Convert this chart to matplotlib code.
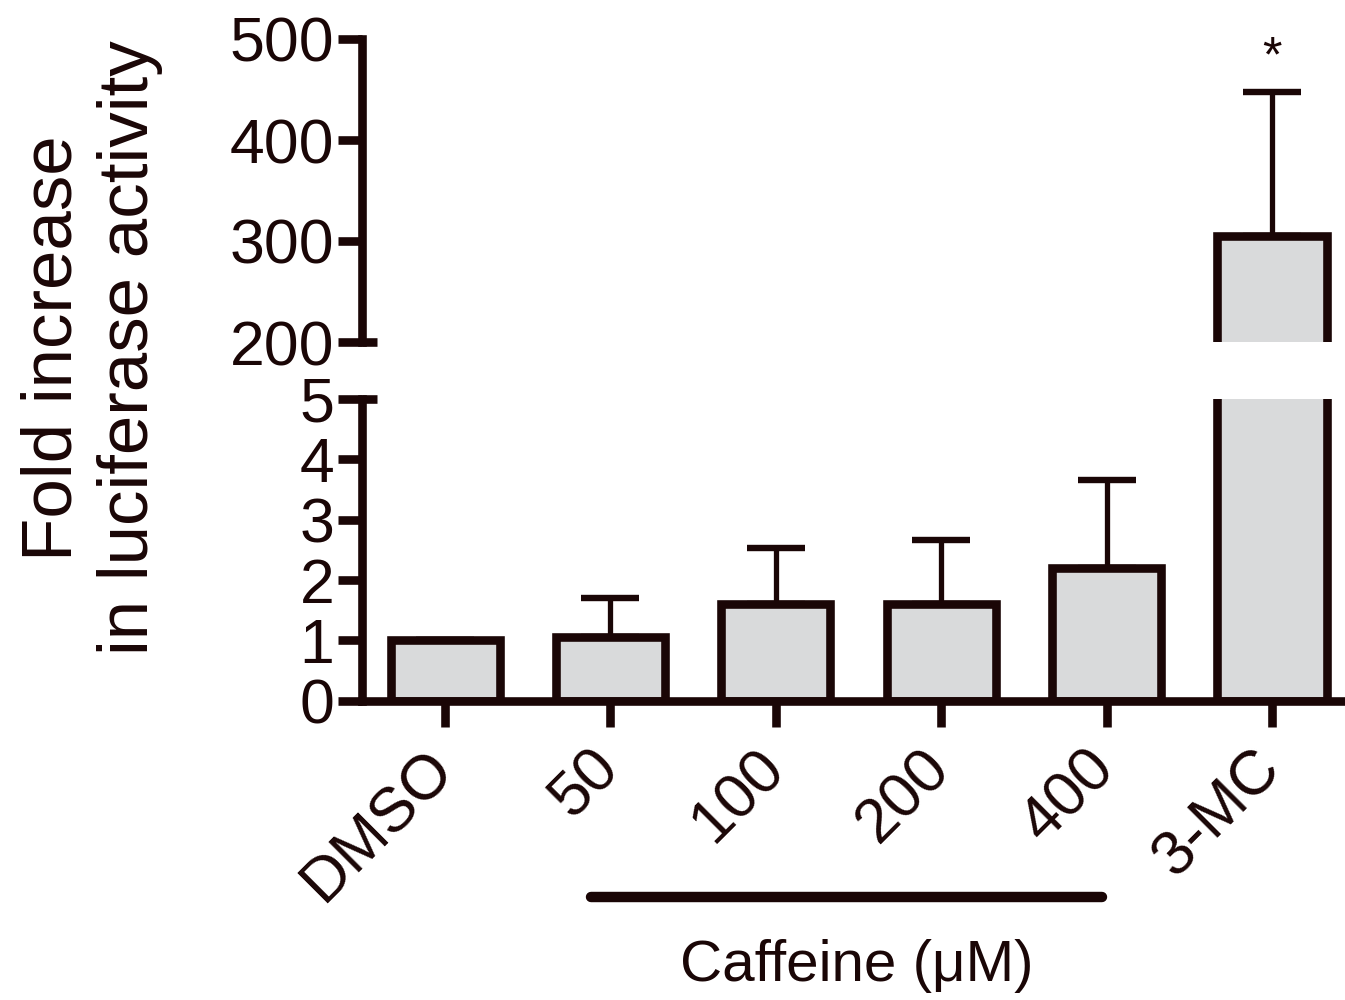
import matplotlib
matplotlib.use("Agg")
import matplotlib.pyplot as plt
import matplotlib.transforms as mtransforms

plt.rcParams['font.family'] = ['Liberation Sans', 'DejaVu Sans']

# data
groups = ["DMSO", "50", "100", "200", "400", "3-MC"]
fold = [1.0, 1.05, 1.6, 1.6, 2.2, 305]
sd_up = [0.0, 0.65, 0.93, 1.07, 1.45, 143]
caffeine_groups = ["50", "400"]

ink = '#1a0606'
fill = '#d9dadb'
lw = 6.2

fig = plt.figure(figsize=(13.45, 10), dpi=100)
ax_lo = fig.add_axes([0.2692, 0.2993, 0.7308, 0.3017])
ax_hi = fig.add_axes([0.2692, 0.658, 0.7308, 0.303])

x = list(range(len(groups)))
for ax in (ax_lo, ax_hi):
    ax.errorbar(x, fold, yerr=[[0] * len(fold), sd_up], fmt='none',
                ecolor=ink, elinewidth=3.8, capsize=21, capthick=4.6, zorder=1)
    ax.bar(x, fold, width=0.66, color=fill, edgecolor=ink, linewidth=lw, zorder=2)
    ax.set_xlim(-0.502, 5.441)
    ax.spines['top'].set_visible(False)
    ax.spines['right'].set_visible(False)
    ax.spines['left'].set_linewidth(lw)
    ax.spines['left'].set_color(ink)
    ax.tick_params(axis='y', length=17, width=lw, color=ink, labelsize=45,
                   labelcolor=ink, pad=3)
    ax.set_facecolor('none')

ax_lo.set_ylim(0, 5)
ax_lo.set_yticks([0, 1, 2, 3, 4, 5])
ax_lo.spines['bottom'].set_linewidth(lw)
ax_lo.spines['bottom'].set_color(ink)
ax_lo.set_xticks(x)
ax_lo.set_xticklabels(groups, rotation=45, ha='right', fontsize=45, color=ink)
ax_lo.tick_params(axis='x', length=19, width=lw, color=ink, pad=8)
shift = mtransforms.ScaledTranslation(20 / 100, 0, fig.dpi_scale_trans)
for lab in ax_lo.get_xticklabels():
    lab.set_transform(lab.get_transform() + shift)

ax_hi.set_ylim(200, 500)
ax_hi.set_yticks([200, 300, 400, 500])
ax_hi.spines['bottom'].set_visible(False)
ax_hi.set_xticks([])

# break marks poking right of the axis
x0 = ax_lo.get_xlim()[0]
ax_lo.plot([x0, x0 + 0.09], [5, 5], color=ink, lw=lw, clip_on=False,
           solid_capstyle='butt', zorder=3)
ax_hi.plot([x0, x0 + 0.09], [200, 200], color=ink, lw=lw, clip_on=False,
           solid_capstyle='butt', zorder=3)

# significance mark
ax_hi.text(5, 458, '*', ha='center', va='bottom', fontsize=36, color=ink)

# caffeine bracket under the tick labels
trans = mtransforms.blended_transform_factory(ax_lo.transData, ax_lo.transAxes)
i0 = groups.index(caffeine_groups[0])
i1 = groups.index(caffeine_groups[1])
ax_lo.plot([i0 - 0.12, i1 - 0.03], [-0.651, -0.651], color=ink, lw=7.5,
           solid_capstyle='round', transform=trans, clip_on=False)
ax_lo.text((i0 + i1) / 2 - 0.01, -0.88, 'Caffeine (\u03bcM)', transform=trans,
           ha='center', va='center', fontsize=42, color=ink)

fig.text(0.068, 0.652, 'Fold increase\nin luciferase activity', rotation=90,
         ha='center', va='center', multialignment='center', fontsize=51,
         color=ink, linespacing=1.2)

fig.savefig('out.png', dpi=100)
